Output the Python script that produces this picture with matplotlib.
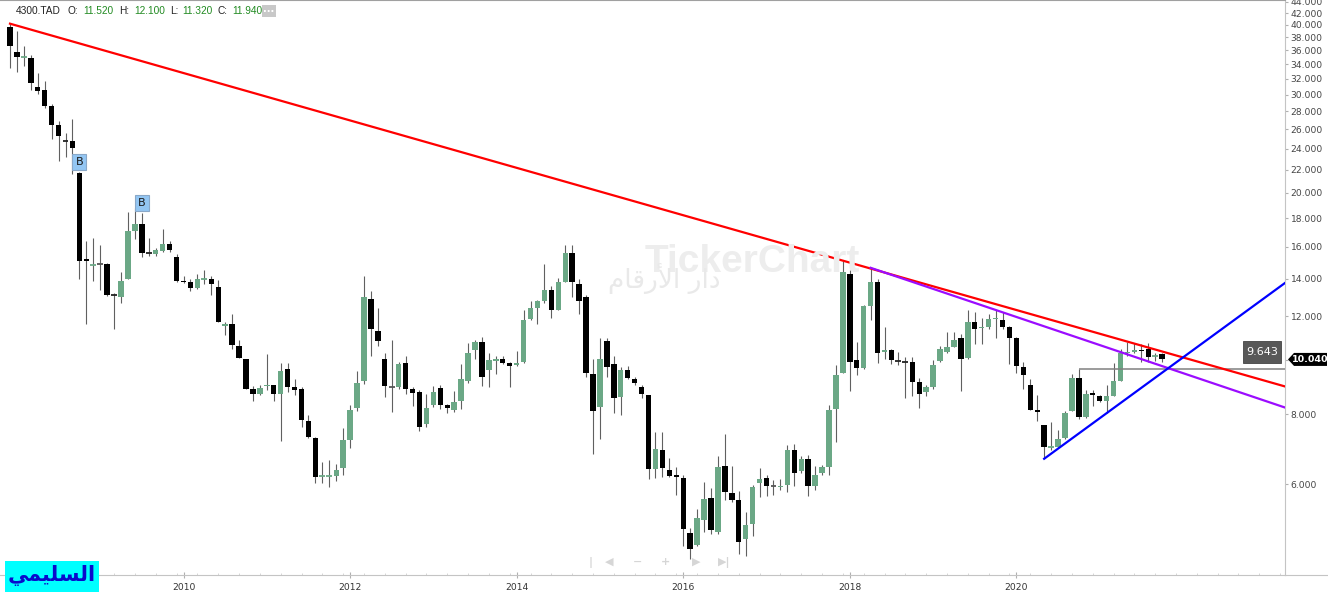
import numpy as np
import matplotlib.pyplot as plt
from matplotlib.patches import Polygon, Rectangle
from matplotlib.lines import Line2D
from matplotlib.ticker import FixedLocator, NullLocator

plt.rcParams['font.family'] = ['DejaVu Sans']

# monthly candles, first bar = Dec 2007
start_year, start_month = 2007, 12

opens = [39.7, 35.7, 35.0, 34.85, 31.0, 30.6, 28.6, 26.5, 24.75, 24.8,
         21.7, 15.2, 14.8, 14.9, 14.9, 13.15, 13.0, 14.0, 17.1, 17.55,
         15.6, 15.55, 15.7, 16.2, 15.35, 13.9, 13.8, 13.5, 13.95, 14.0,
         13.55, 11.55, 11.6, 10.6, 10.05, 8.9, 8.7, 9.0, 9.04, 8.72,
         9.67, 8.95, 8.9, 7.8, 7.25, 6.2, 6.2, 6.2, 6.4, 7.2,
         8.2, 9.2, 12.9, 11.3, 10.05, 8.95, 8.95, 9.9, 8.9, 8.77,
         7.7, 8.3, 8.93, 8.3, 8.15, 8.47, 9.2, 10.45, 10.8, 9.6,
         9.97, 10.06, 9.9, 9.8, 9.95, 11.85, 12.4, 12.8, 13.4, 12.3,
         13.8, 15.6, 13.7, 13.0, 9.45, 8.25, 10.85, 9.85, 8.6, 9.63,
         9.25, 8.95, 8.65, 6.38, 6.9, 6.36, 6.22, 6.16, 4.9, 4.67,
         5.17, 5.67, 4.93, 6.47, 5.78, 5.62, 4.78, 5.08, 6.02, 6.16,
         5.96, 5.92, 5.97, 6.9, 6.33, 6.65, 5.94, 6.27, 6.43, 8.17,
         9.48, 14.3, 10.0, 9.7, 12.5, 13.8, 10.35, 10.45, 10.0, 9.95,
         9.92, 9.13, 8.76, 8.95, 9.97, 10.34, 10.55, 10.95, 10.1, 11.7,
         11.45, 11.5, 11.87, 11.8, 11.5, 10.95, 9.75, 9.05, 8.15, 7.66,
         6.98, 7.0, 7.25, 8.1, 9.3, 7.9, 8.73, 8.62, 8.46, 8.62,
         9.2, 10.3, 10.35, 10.45, 10.5, 10.18, 10.25]
highs = [40.2, 39.0, 36.6, 35.3, 32.8, 31.7, 28.9, 26.9, 25.6, 27.1,
         21.8, 16.4, 16.6, 16.1, 14.95, 13.2, 14.4, 18.5, 18.8, 18.4,
         16.6, 15.9, 17.2, 16.4, 15.5, 14.2, 14.0, 14.3, 14.5, 14.2,
         13.95, 11.7, 12.1, 10.9, 10.05, 9.0, 9.05, 10.25, 9.04, 9.88,
         9.88, 9.25, 8.95, 7.98, 7.3, 6.58, 6.62, 6.53, 7.55, 8.3,
         9.57, 14.2, 13.3, 12.4, 10.3, 10.9, 9.95, 10.2, 8.95, 8.86,
         8.7, 8.98, 9.05, 8.36, 8.8, 9.85, 10.75, 10.9, 11.0, 10.3,
         10.2, 10.2, 9.93, 10.4, 12.3, 12.8, 12.85, 14.9, 13.6, 14.05,
         16.1, 16.1, 14.0, 13.1, 10.05, 10.95, 10.95, 10.2, 9.73, 9.78,
         9.35, 9.02, 8.65, 7.43, 7.45, 6.68, 6.44, 6.23, 5.01, 5.42,
         6.05, 5.9, 6.75, 7.37, 6.47, 5.84, 5.34, 5.98, 6.41, 6.22,
         6.1, 6.12, 7.06, 7.08, 6.75, 6.76, 6.47, 6.5, 8.33, 9.8,
         15.1, 14.5, 10.8, 12.55, 14.7, 14.0, 11.5, 10.5, 10.35, 10.15,
         10.15, 9.28, 9.02, 10.03, 10.6, 11.25, 11.25, 11.15, 12.3, 12.2,
         11.9, 12.1, 12.3, 12.2, 11.55, 11.0, 9.95, 9.25, 8.65, 7.66,
         7.74, 7.5, 8.1, 9.45, 9.643, 8.85, 8.85, 8.65, 9.02, 9.9,
         10.5, 10.8, 10.75, 10.7, 10.75, 10.3, 10.3]
lows = [33.5, 32.9, 33.7, 30.6, 30.1, 28.4, 25.0, 22.8, 23.2, 21.6,
        14.0, 11.6, 13.9, 13.4, 13.05, 11.4, 12.7, 14.0, 16.5, 15.3,
        15.4, 15.4, 15.65, 15.65, 13.8, 13.75, 13.3, 13.45, 13.7, 13.1,
        11.7, 11.1, 10.5, 10.1, 8.88, 8.45, 8.66, 8.85, 8.45, 7.17,
        8.78, 8.66, 7.6, 7.25, 6.03, 6.03, 5.93, 6.08, 6.23, 6.97,
        8.12, 9.06, 10.2, 10.6, 8.58, 8.07, 8.88, 8.7, 8.28, 7.48,
        7.6, 8.25, 8.17, 8.05, 8.08, 8.17, 9.1, 10.05, 9.0, 8.95,
        9.45, 9.85, 8.95, 9.78, 9.9, 11.8, 11.6, 12.7, 11.9, 12.3,
        13.8, 13.0, 12.1, 9.35, 6.78, 7.22, 9.35, 8.05, 7.98, 9.25,
        9.04, 8.57, 6.13, 6.15, 6.17, 6.17, 5.73, 4.65, 4.41, 4.65,
        4.93, 4.89, 4.89, 5.62, 5.58, 4.49, 4.46, 4.84, 5.68, 5.7,
        5.73, 5.85, 5.8, 5.95, 6.28, 5.72, 5.85, 6.23, 6.23, 7.13,
        9.48, 8.8, 9.4, 9.65, 11.8, 9.9, 10.05, 9.85, 9.83, 8.55,
        8.62, 8.2, 8.62, 8.9, 9.95, 10.3, 10.55, 8.8, 10.07, 10.7,
        10.7, 11.4, 10.95, 11.4, 9.85, 9.5, 8.9, 8.15, 7.8, 6.67,
        6.9, 6.98, 7.23, 8.1, 7.85, 7.88, 8.28, 8.42, 8.05, 8.62,
        9.17, 10.2, 10.3, 9.95, 9.95, 9.97, 9.95]
closes = [36.6, 35.1, 35.1, 31.4, 30.5, 28.6, 26.4, 25.3, 24.7, 24.1,
          15.1, 15.1, 14.85, 14.9, 13.1, 13.1, 13.9, 17.1, 17.6, 15.6,
          15.55, 15.75, 16.2, 15.75, 13.9, 13.8, 13.5, 14.0, 14.0, 13.7,
          11.7, 11.6, 10.65, 10.1, 8.9, 8.7, 8.92, 9.05, 8.72, 9.58,
          8.95, 8.85, 7.82, 7.3, 6.17, 6.22, 6.22, 6.36, 7.2, 8.15,
          9.1, 13.0, 11.4, 10.85, 9.0, 8.95, 9.85, 8.9, 8.74, 7.6,
          8.2, 8.77, 8.3, 8.22, 8.43, 9.25, 10.3, 10.8, 9.35, 10.0,
          10.06, 9.9, 9.78, 9.9, 11.8, 12.4, 12.8, 13.4, 12.3, 13.8,
          15.6, 13.8, 12.8, 9.5, 8.1, 10.05, 9.75, 8.55, 9.6, 9.3,
          9.1, 8.7, 6.38, 6.92, 6.42, 6.2, 6.18, 4.98, 4.59, 5.22,
          5.63, 4.96, 6.45, 5.8, 5.62, 4.73, 5.07, 5.92, 6.12, 5.96,
          5.96, 5.95, 6.9, 6.27, 6.65, 5.94, 6.22, 6.45, 8.15, 9.4,
          14.4, 9.95, 9.7, 12.5, 13.8, 10.3, 10.45, 10.0, 9.97, 9.92,
          9.13, 8.7, 8.95, 9.8, 10.5, 10.55, 10.9, 10.05, 11.7, 11.4,
          11.5, 11.85, 11.92, 11.5, 10.95, 9.77, 9.4, 8.15, 8.07, 6.98,
          7.0, 7.23, 8.06, 9.3, 7.93, 8.7, 8.66, 8.46, 8.62, 9.17,
          10.3, 10.35, 10.45, 10.4, 10.15, 10.22, 10.04]

price_ticks = list(range(6, 46, 2))
year_ticks = [2010, 2012, 2014, 2016, 2018, 2020]

# trend lines drawn on the chart: (bar index, price) anchors
red_line = [(0, 40.2), (120, 15.1)]
purple_line = [(124, 14.66), (183.7, 8.23)]
blue_line = [(149, 6.66), (183.7, 13.77)]
level_bar, level_price = 154, 9.643
b_bars = [10, 19]

W, H = 1328, 597
GREEN = '#6ba886'

fig = plt.figure(figsize=(W / 100, H / 100), dpi=100)
ax = fig.add_axes([0, 1 - 575 / H, 1285 / W, 575 / H])
ax.set_yscale('log')
x_left, x_right = -1.44, 183.7
ax.set_xlim(x_left, x_right)
ax.set_ylim(4.12, 44.33)

o = np.array(opens); h = np.array(highs); l = np.array(lows); c = np.array(closes)
idx = np.arange(len(o))
up = c >= o
doji = np.abs(c - o) < 0.004 * o

ax.vlines(idx, l, h, color='#606060', lw=0.8, zorder=2)
body = ~doji
lo_b = np.minimum(o, c)
hi_b = np.maximum(o, c)
cols = np.where(up, GREEN, '#000000')
ax.bar(idx[body], (hi_b - lo_b)[body], bottom=lo_b[body], width=0.78,
       color=cols[body], edgecolor='none', zorder=3)
dcol = np.where(c == o, '#555555', np.where(up, GREEN, '#222222'))
for i in idx[doji]:
    ax.hlines((o[i] + c[i]) / 2, i - 0.42, i + 0.42, color=dcol[i], lw=1.3, zorder=3)


def trend(pts, x0, x1):
    (xa, pa), (xb, pb) = pts
    xs = np.array([x0, x1])
    return xs, pa * (pb / pa) ** ((xs - xa) / (xb - xa))


xs, ys = trend(red_line, red_line[0][0], x_right)
ax.plot(xs, ys, color='#ff0000', lw=1.6, zorder=5)
xs, ys = trend(purple_line, purple_line[0][0], x_right)
ax.plot(xs, ys, color='#9b0cff', lw=1.6, zorder=5)
xs, ys = trend(blue_line, blue_line[0][0], x_right)
ax.plot(xs, ys, color='#0000ff', lw=1.6, zorder=5)
ax.hlines(level_price, level_bar, x_right, color='#808080', lw=1.1, zorder=4)

# B markers
for b in b_bars:
    ax.annotate('B', xy=(b, h[b]), xytext=(0, 3.5), textcoords='offset points',
                ha='center', va='bottom', fontsize=8, color='#1a1a1a',
                bbox=dict(boxstyle='square,pad=0.28', fc='#93c6f3', ec='#8aa8c8', lw=0.8),
                zorder=6)

# axes styling
ax.spines['left'].set_visible(False)
ax.spines['top'].set_color('#a0a0a0')
ax.spines['right'].set_color('#c4c4c4')
ax.spines['bottom'].set_color('#c4c4c4')
ax.yaxis.tick_right()
ax.yaxis.set_major_locator(FixedLocator(price_ticks))
ax.yaxis.set_minor_locator(NullLocator())
# the 10.000 label sits under the last-price tag
ax.set_yticklabels(['' if p == 10 else f'{p:.3f}' for p in price_ticks])
ax.tick_params(axis='y', which='major', direction='out', length=2, width=0.8,
               color='#b0b0b0', pad=2, labelsize=6.6, labelcolor='#454545')

month_of = lambda y: (y - start_year) * 12 + (1 - start_month)
ax.xaxis.set_major_locator(FixedLocator([month_of(y) for y in year_ticks]))
ax.set_xticklabels([str(y) for y in year_ticks])
ax.xaxis.set_minor_locator(FixedLocator(np.arange(0, 184, 3)))
ax.tick_params(axis='x', which='major', direction='inout', length=4, width=0.8,
               color='#b0b0b0', pad=4, labelsize=6.6, labelcolor='#333333')
ax.tick_params(axis='x', which='minor', direction='in', length=1.5, width=0.6,
               color='#d0d0d0')

fig.add_artist(Line2D([1285 / W, 1], [1 - 575 / H, 1 - 575 / H], color='#c4c4c4', lw=0.8,
                      transform=fig.transFigure))


def fx(x):
    return x / W


def fy(y):
    return 1 - y / H


# header
hdr = [(16, '4300.TAD', '#222222'), (68, 'O:', '#222222'), (83, '11.520', '#228b22'),
       (119, 'H:', '#222222'), (134, '12.100', '#228b22'), (170, 'L:', '#222222'),
       (182, '11.320', '#228b22'), (218, 'C:', '#222222'), (232, '11.940', '#228b22')]
for x, t, col in hdr:
    fig.text(fx(x), fy(11), t, color=col, fontsize=7.3, family='Liberation Sans',
             ha='left', va='center')
fig.add_artist(Rectangle((fx(262), fy(17)), 14 / W, 12 / H, fc='#c8c8c8', ec='none',
                         transform=fig.transFigure))
fig.text(fx(269), fy(11.5), '···', color='white', fontsize=7, ha='center', va='center',
         weight='bold')

# watermark
fig.text(fx(645), fy(262), 'TickerChart', color='#ededed', fontsize=28, weight='bold',
         family='Liberation Sans', ha='left', va='center', zorder=0)
fig.add_artist(Rectangle((fx(614), fy(274)), 25 / W, 24 / H, fc='none', ec='#e8e8e8',
                         lw=1.5, transform=fig.transFigure, zorder=0))
fig.add_artist(Polygon([(fx(616), fy(272)), (fx(622), fy(264)), (fx(628), fy(266)),
                        (fx(636), fy(255)), (fx(636), fy(272))], closed=True,
                       fc='#f3ecc9', ec='none', transform=fig.transFigure, zorder=0))
fig.text(fx(664), fy(279), '\uFEE1\uFE8E\uFED7\uFEAD\uFEF7\uFE8D \uFEAD\uFE8D\uFEA9',
         color='#e9e9e9', fontsize=19, ha='center', va='center', zorder=0)

# navigation buttons
for x, t in [(591, '|'), (609, '◀'), (638, '−'), (666, '+'), (696, '▶'), (724, '▶|')]:
    fig.text(fx(x), fy(562), t, color='#d6d6d6', fontsize=8, ha='center', va='center',
             weight='bold')

# last price tag and level tag
to_fig = fig.transFigure.inverted()
y_last = to_fig.transform(ax.transData.transform((0, c[-1])))[1]
hh = 6.5 / H
fig.add_artist(Polygon([(fx(1288), y_last), (fx(1294), y_last + hh), (fx(1327), y_last + hh),
                        (fx(1327), y_last - hh), (fx(1294), y_last - hh)], closed=True,
                       fc='#000000', ec='none', transform=fig.transFigure))
fig.text(fx(1310.5), y_last, f'{c[-1]:.3f}', color='white', fontsize=6.8, weight='bold',
         ha='center', va='center')

y_lvl = to_fig.transform(ax.transData.transform((0, level_price)))[1]
fig.add_artist(Rectangle((fx(1243), y_lvl + 6 / H), 38 / W, 22 / H, fc='#585858',
                         ec='#444444', lw=0.6, transform=fig.transFigure))
fig.text(fx(1262), y_lvl + 17 / H, f'{level_price:.3f}', color='white', fontsize=8,
         ha='center', va='center')

# signature box
fig.add_artist(Rectangle((fx(5), fy(592)), 94 / W, 31 / H, fc='#00ffff', ec='none',
                         transform=fig.transFigure, zorder=5))
fig.text(fx(52), fy(575), '\uFEF2\uFEE4\uFEF4\uFEE0\uFEB4\uFEDF\uFE8D', color='#0a0acc',
         fontsize=15, weight='bold', ha='center', va='center', zorder=6)

fig.savefig('out.png', dpi=100)
